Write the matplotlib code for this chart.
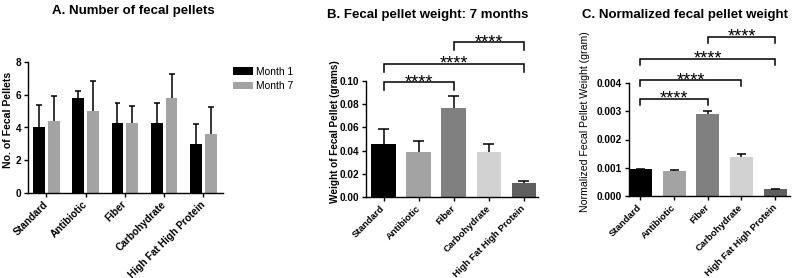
import matplotlib
matplotlib.use("Agg")
import matplotlib.pyplot as plt
import numpy as np

plt.rcParams['font.family'] = ['Liberation Sans', 'DejaVu Sans']

# ---------------- data ----------------
diets = ["Standard", "Antibiotic", "Fiber", "Carbohydrate", "High Fat High Protein"]

# Panel A: number of fecal pellets
month1_mean = [4.0, 5.8, 4.25, 4.25, 3.0]
month1_err = [1.4, 0.45, 1.25, 1.25, 1.2]
month7_mean = [4.4, 5.0, 4.25, 5.8, 3.6]
month7_err = [1.5, 1.85, 1.05, 1.45, 1.65]
series_labels = ["Month 1", "Month 7"]

# Panel B: fecal pellet weight at 7 months (grams)
weight_mean = [0.0453, 0.039, 0.0768, 0.039, 0.012]
weight_err = [0.0137, 0.009, 0.0103, 0.0068, 0.002]

# Panel C: normalized fecal pellet weight (gram)
norm_mean = [0.00095, 0.00087, 0.00292, 0.00139, 0.00025]
norm_err = [0.00002, 0.00006, 0.00009, 0.00011, 0.00001]

# significance comparisons (index pairs) and labels
sig_b = [(0, 2), (0, 4), (2, 4)]
sig_c = [(0, 2), (0, 3), (0, 4), (2, 4)]
sig_text = "****"

bar_colors = ["#000000", "#a3a3a3", "#808080", "#d2d2d2", "#5f5f5f"]
m1_color = "#000000"
m7_color = "#a3a3a3"

W, H = 793, 278
fig = plt.figure(figsize=(W / 100, H / 100), dpi=100)


def px_axes(l, r, t, b):
    return fig.add_axes([l / W, 1 - b / H, (r - l) / W, (b - t) / H])


def style(ax):
    for s in ["top", "right"]:
        ax.spines[s].set_visible(False)
    for s in ["left", "bottom"]:
        ax.spines[s].set_linewidth(1.0)
    ax.tick_params(axis="both", direction="out", length=3, width=1.0,
                   labelsize=7.2, pad=2)
    for lab in ax.get_yticklabels():
        lab.set_fontweight("bold")


def xlabels(ax, size=6.8):
    ax.set_xticks(np.arange(len(diets)))
    ax.set_xticklabels(diets, rotation=45, ha="right", va="center",
                       rotation_mode="anchor", fontsize=size, fontweight="bold")
    ax.tick_params(axis="x", pad=4)


def errbars(ax, xs, means, errs, capw):
    means = np.asarray(means)
    errs = np.asarray(errs)
    ax.vlines(xs, means, means + errs, color="black", lw=1.1, zorder=3)
    ax.hlines(means + errs, xs - capw / 2, xs + capw / 2, color="black",
              lw=1.1, zorder=3)


def brackets(ax, pairs, levels, leg, offset_pts=-3.6, fs=13):
    for (i, j), y in zip(pairs, levels):
        ax.plot([i, i, j, j], [y - leg, y, y, y - leg], color="black",
                lw=1.1, clip_on=False, solid_joinstyle="miter")
        ax.annotate(sig_text, xy=((i + j) / 2, y), xytext=(0, offset_pts),
                    textcoords="offset points", ha="center", va="baseline",
                    fontsize=fs, annotation_clip=False)


# ---------------- Panel A ----------------
axA = px_axes(28, 223, 62, 193)
x = np.arange(len(diets))
bw = 0.3
off = 0.19
axA.bar(x - off, month1_mean, bw, color=m1_color, label=series_labels[0], zorder=2)
axA.bar(x + off, month7_mean, bw, color=m7_color, label=series_labels[1], zorder=2)
errbars(axA, x - off, month1_mean, month1_err, bw * 0.5)
errbars(axA, x + off, month7_mean, month7_err, bw * 0.5)
axA.set_xlim(-0.47, 4.5)
axA.set_ylim(0, 8)
axA.set_yticks([0, 2, 4, 6, 8])
style(axA)
xlabels(axA, size=7.3)
axA.set_ylabel("No. of Fecal Pellets", fontsize=7.6, fontweight="bold")
axA.yaxis.set_label_coords(-0.075, 0.56)
fig.legend(loc="upper left", bbox_to_anchor=(233 / W, 1 - 66.5 / H),
           frameon=False, fontsize=7.4, handlelength=1.9, handleheight=0.7,
           handletextpad=0.35, labelspacing=0.45, borderpad=0, borderaxespad=0)
fig.text(133 / W, 1 - 11 / H, "A. Number of fecal pellets", ha="center",
         va="center", fontsize=9.5, fontweight="bold")

# ---------------- Panel B ----------------
axB = px_axes(366, 538, 81, 197)
bwB = 0.7
axB.bar(x, weight_mean, bwB, color=bar_colors, zorder=2)
errbars(axB, x, weight_mean, weight_err, bwB * 0.45)
axB.set_xlim(-0.5, 4.4)
axB.set_ylim(0, 0.10)
axB.set_yticks(np.arange(0, 0.101, 0.02))
axB.set_yticklabels([f"{v:.2f}" for v in np.arange(0, 0.101, 0.02)])
style(axB)
xlabels(axB)
axB.set_ylabel("Weight of Fecal Pellet (grams)", fontsize=7.2, fontweight="bold")
axB.yaxis.set_label_coords(-0.15, 0.56)
brackets(axB, sig_b, [0.099, 0.1147, 0.1336], 0.0068)
fig.text(428 / W, 1 - 15 / H, "B. Fecal pellet weight: 7 months", ha="center",
         va="center", fontsize=9.5, fontweight="bold")

# ---------------- Panel C ----------------
axC = px_axes(629, 790, 83, 196)
bwC = 0.68
axC.bar(x, norm_mean, bwC, color=bar_colors, zorder=2)
errbars(axC, x, norm_mean, norm_err, bwC * 0.4)
axC.set_xlim(-0.34, 4.44)
axC.set_ylim(0, 0.004)
axC.set_yticks(np.arange(0, 0.0041, 0.001))
axC.set_yticklabels([f"{v:.3f}" for v in np.arange(0, 0.0041, 0.001)])
style(axC)
xlabels(axC)
axC.set_ylabel("Normalized Fecal Pellet Weight (gram)", fontsize=7.6)
axC.yaxis.set_label_coords(-0.245, 0.655)
brackets(axC, sig_c, [0.00344, 0.0041, 0.00486, 0.00564], 0.00022)
fig.text(685 / W, 1 - 15 / H, "C. Normalized fecal pellet weight", ha="center",
         va="center", fontsize=9.5, fontweight="bold")

fig.savefig("out.png", dpi=100)
